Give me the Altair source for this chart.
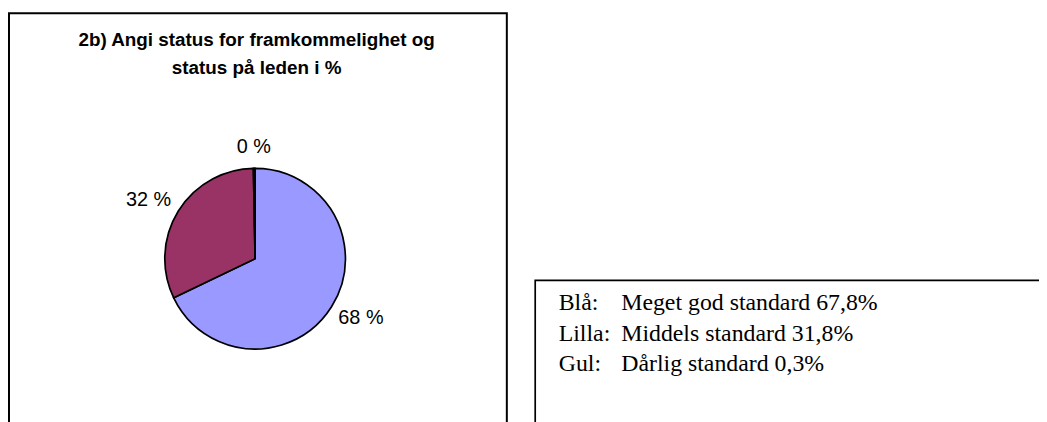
import altair as alt
import pandas as pd

# ---- data ----
categories = ["Meget god standard", "Middels standard", "Dårlig standard"]
values = [67.8, 31.8, 0.3]
colour_names = ["Blå:", "Lilla:", "Gul:"]
colours = ["#9999FF", "#993366", "#FFFFCC"]
title_lines = ["2b) Angi status for framkommelighet og", "status på leden i %"]

W, H = 1039, 414

df = pd.DataFrame({
    "category": categories,
    "value": values,
    "order": list(range(len(categories))),
    "name": colour_names,
    "desc": [f"{c} {str(v).replace('.', ',')}%" for c, v in zip(categories, values)],
})

CX, CY, R = 249, 251, 91

pie = alt.Chart(df).mark_arc(radius=R, stroke="black", strokeWidth=1.7).encode(
    theta=alt.Theta("value:Q", stack=True),
    color=alt.Color("category:N", scale=alt.Scale(domain=categories, range=colours), legend=None),
    order=alt.Order("order:Q"),
    x=alt.value(CX),
    y=alt.value(CY),
)

# labels placed outside the slices, at the middle angle of each slice
labels = alt.Chart(df).transform_joinaggregate(
    total="sum(value)"
).transform_window(
    cum="sum(value)", sort=[alt.SortField("order")]
).transform_calculate(
    mid="2*PI*(datum.cum - datum.value/2)/datum.total",
    px=f"{CX} + 126*sin(datum.mid)",
    py=f"{CY} - 112*cos(datum.mid)",
    label="format(datum.value, '.0f') + ' %'",
).mark_text(font="Liberation Sans", fontSize=20, color="black", align="center", baseline="middle").encode(
    text="label:N",
    x=alt.X("px:Q", scale=None, axis=None),
    y=alt.Y("py:Q", scale=None, axis=None),
)

title = alt.Chart(pd.DataFrame({"t": ["\n".join(title_lines)]})).mark_text(
    font="Liberation Sans", fontSize=19, fontWeight="bold", lineBreak="\n",
    lineHeight=28, align="center", baseline="alphabetic", color="black",
).encode(text="t:N", x=alt.value(250.5), y=alt.value(37))

frame = pd.DataFrame({"k": [0]})
left_box = alt.Chart(frame).mark_rect(fill=None, stroke="black", strokeWidth=2).encode(
    x=alt.value(1), x2=alt.value(502.7), y=alt.value(3.7), y2=alt.value(460)
)
right_box = alt.Chart(frame).mark_rect(fill=None, stroke="black", strokeWidth=1.7).encode(
    x=alt.value(531.3), x2=alt.value(1100), y=alt.value(272.8), y2=alt.value(460)
)

ypos = alt.Y("order:O", axis=None, scale=alt.Scale(type="point", range=[303, 364], padding=0))
legend_names = alt.Chart(df).mark_text(
    font="Liberation Serif", fontSize=24, align="left", baseline="alphabetic", color="black"
).encode(text="name:N", x=alt.value(555), y=ypos)
legend_desc = alt.Chart(df).mark_text(
    font="Liberation Serif", fontSize=24, align="left", baseline="alphabetic", color="black"
).encode(text="desc:N", x=alt.value(618), y=ypos)

chart = alt.layer(
    left_box, right_box, pie, labels, title,
    alt.layer(legend_names, legend_desc),
).resolve_scale(x="independent", y="independent").properties(
    width=W, height=H, autosize=alt.AutoSizeParams(type="none"), padding=0,
).configure_view(stroke=None)

chart.save("out.html", embed_options={"renderer": "svg", "actions": False})
